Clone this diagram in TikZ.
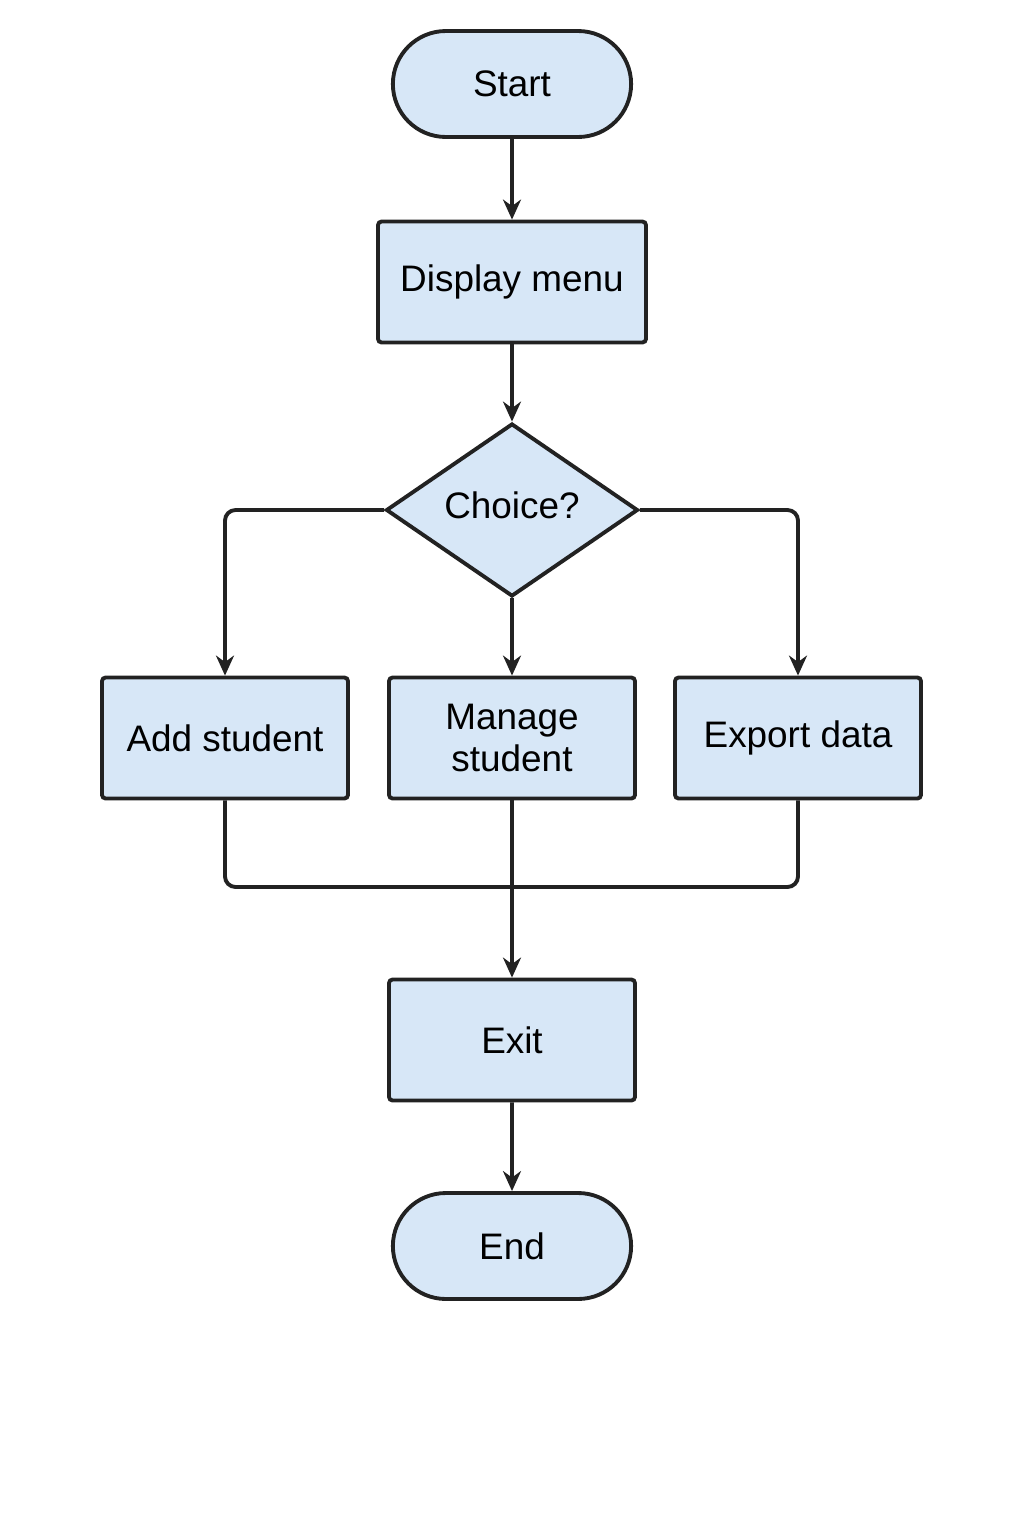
\documentclass[tikz,border=0pt]{standalone}
\usepackage{fontspec}
\setmainfont{Liberation Sans}
\usetikzlibrary{shapes.geometric, shapes.misc, arrows.meta}

\definecolor{boxfill}{HTML}{D7E7F7}
\definecolor{boxline}{HTML}{222222}

\begin{document}
\begin{tikzpicture}[x=0.02cm, y=-0.02cm,
    every node/.style={font=\fontsize{21}{24}\selectfont, text=black, align=center},
    terminal/.style={rounded rectangle, draw=boxline, fill=boxfill, line width=2.2pt,
        minimum width=5.0cm, minimum height=2.12cm},
    process/.style={rectangle, rounded corners=2pt, draw=boxline, fill=boxfill, line width=2.2pt,
        minimum width=4.92cm, minimum height=2.42cm},
    decision/.style={diamond, draw=boxline, fill=boxfill, line width=2.2pt, inner sep=0pt,
        minimum width=5.04cm, minimum height=3.46cm},
    flow/.style={draw=boxline, line width=2.2pt, rounded corners=6pt,
        -{Stealth[length=0.4cm, width=0.36cm]}},
    mergeline/.style={draw=boxline, line width=2.2pt, rounded corners=6pt}]

    \useasboundingbox (0,0) rectangle (1024,1536);

    \node[terminal] (start) at (512,84) {Start};
    \node[process, minimum width=5.36cm] (menu) at (512,282) {Display menu};
    \node[decision] (choice) at (512,510) {};
    \node at (512,505) {Choice?};

    \node[process] (add) at (225,738) {Add student};
    \node[process] (manage) at (512,738) {Manage\\student};
    \node[process] (export) at (798,738) {Export data};

    \node[process] (exit) at (512,1040) {Exit};
    \node[terminal] (end) at (512,1246) {End};

    \coordinate (merge) at (512,887);

    \draw[flow] (start) -- (menu);
    \draw[flow] (menu) -- (choice);

    \draw[flow] (choice.west) -| (add.north);
    \draw[flow] (choice.south) -- (manage.north);
    \draw[flow] (choice.east) -| (export.north);

    \draw[mergeline] (add.south) |- (merge);
    \draw[mergeline] (export.south) |- (merge);
    \draw[flow] (manage.south) -- (exit.north);

    \draw[flow] (exit) -- (end);

\end{tikzpicture}
\end{document}
